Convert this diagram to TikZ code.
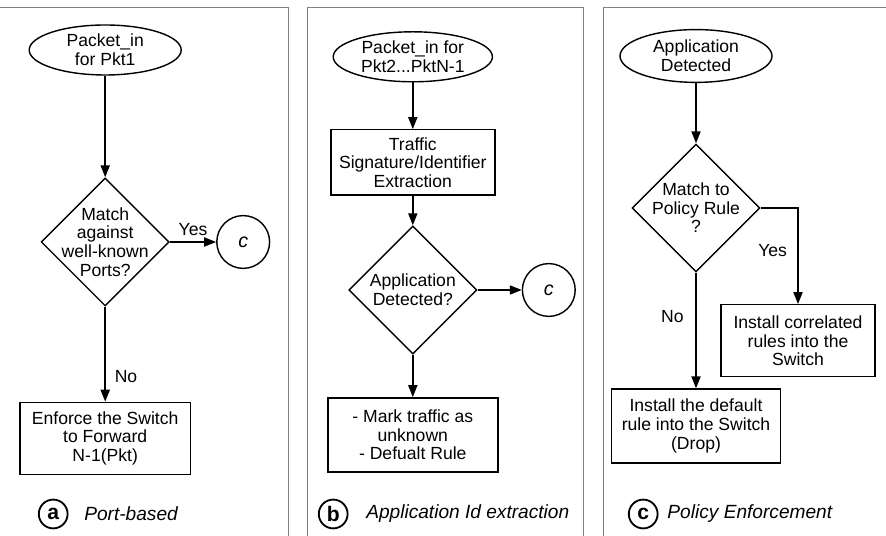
\documentclass[tikz,border=0pt]{standalone}
\usepackage{fontspec}
\setmainfont{Liberation Sans}
\usepackage{xcolor}
\usepackage{tikz}
\usetikzlibrary{shapes.geometric, arrows.meta}
\tikzstyle{startstop} = [ellipse, minimum width=3.8cm, minimum height=1.25cm, inner sep=1pt, align=center, draw=black, line width=1pt]
\tikzstyle{process} = [rectangle, minimum height=1.8cm, align=center, draw=black, line width=1pt]
\tikzstyle{decision} = [diamond, minimum width=3.2cm, minimum height=3.2cm, inner sep=0pt, draw=black, line width=1pt]
\tikzstyle{connector} = [circle, minimum size=1.32cm, inner sep=0pt, draw=black, line width=1pt, font=\fontsize{14}{14}\selectfont\itshape]
\tikzstyle{badge} = [circle, minimum size=0.72cm, inner sep=0pt, draw=black, line width=1.3pt, font=\fontsize{15}{15}\selectfont\bfseries]
\tikzstyle{caption} = [anchor=west, inner sep=0pt, font=\fontsize{13.6}{14}\selectfont\itshape]
\tikzstyle{arrow} = [line width=1pt,-{Stealth[length=8.5pt,width=6.5pt,inset=0pt]}]
\tikzstyle{frame} = [gray, line width=0.6pt]

\begin{document}
\begin{tikzpicture}[font=\fontsize{12.5}{13.2}\selectfont]
		\useasboundingbox (0,0) rectangle (22.15,13.4);
		% (a) port-based
		\coordinate (pktone) at (2.63,12.15);
		\coordinate (ports) at (2.63,7.35);
		\coordinate (conna) at (6.08,7.35);
		\coordinate (forward) at (2.63,2.44);
		\coordinate (capa) at (1.33,0.55);
		\coordinate (capatext) at (2.1,0.55);
		% (b) application id extraction
		\coordinate (pktn) at (10.32,11.98);
		\coordinate (extract) at (10.32,9.34);
		\coordinate (appdet) at (10.32,6.15);
		\coordinate (connb) at (13.72,6.15);
		\coordinate (unknown) at (10.32,2.53);
		\coordinate (capb) at (8.33,0.55);
		\coordinate (capbtext) at (9.15,0.55);
		% (c) policy enforcement
		\coordinate (appin) at (17.4,12.0);
		\coordinate (policy) at (17.4,8.2);
		\coordinate (correlated) at (19.95,4.88);
		\coordinate (default) at (17.4,2.75);
		\coordinate (capc) at (16.08,0.55);
		\coordinate (capctext) at (16.68,0.55);
		% Panel frames
		\draw[frame] (0,13.225) -- (7.2,13.225) -- (7.2,0);
		\draw[frame] (7.675,0) -- (7.675,13.225) -- (14.575,13.225) -- (14.575,0);
		\draw[frame] (15.075,0) -- (15.075,13.225) -- (22.15,13.225);
		% Start nodes
		\node[startstop, name=pktone] at (pktone) {Packet\_in\\for Pkt1};
		\node[startstop, name=pktn, minimum width=3.98cm] at (pktn) {Packet\_in for\\Pkt2...PktN-1};
		\node[startstop, name=appin, minimum height=1.32cm] at (appin) {Application\\Detected};
		% Decisions
		\node[decision, name=ports, label={[align=center]center:Match\\against\\well-known\\Ports?}] at (ports) {};
		\node[decision, name=appdet, label={[align=center]center:Application\\Detected?}] at (appdet) {};
		\node[decision, name=policy, label={[align=center]center:Match to\\Policy Rule\\?}] at (policy) {};
		% Processes
		\node[process, name=forward, minimum width=4.25cm] at (forward) {Enforce the Switch\\to Forward\\N-1(Pkt)};
		\node[process, name=extract, minimum width=4.1cm, minimum height=1.63cm] at (extract) {Traffic\\Signature/Identifier\\Extraction};
		\node[process, name=unknown, minimum width=4.25cm, minimum height=1.85cm] at (unknown) {- Mark traffic as\\unknown\\- Defualt Rule};
		\node[process, name=correlated, minimum width=3.85cm] at (correlated) {Install correlated\\rules into the\\Switch};
		\node[process, name=default, minimum width=4.22cm, minimum height=1.85cm] at (default) {Install the default\\rule into the Switch\\(Drop)};
		% Connectors
		\node[connector, name=conna] at (conna) {c};
		\node[connector, name=connb] at (connb) {c};
		% Arrows
		\draw [arrow] (pktone)--(ports);
		\draw [arrow] (ports)--(conna) node[midway, above=1pt] {Yes};
		\draw [arrow] (ports)--(forward) node[pos=0.74, right=3pt] {No};
		\draw [arrow] (pktn)--(extract);
		\draw [arrow] (extract)--(appdet);
		\draw [arrow] (appdet)--(connb);
		\draw [arrow] (appdet)--(unknown);
		\draw [arrow] (appin)--(policy);
		\draw [arrow] (policy) -| (correlated) node[pos=0.72, left=4pt] {Yes};
		\draw [arrow] (policy)--(default) node[pos=0.38, left=5pt] {No};
		% Captions
		\node[badge, name=capa] at (capa) {a};
		\node[caption, name=capatext] at (capatext) {Port-based};
		\node[badge, name=capb] at (capb) {b};
		\node[caption, name=capbtext] at (capbtext) {Application Id extraction};
		\node[badge, name=capc] at (capc) {c};
		\node[caption, name=capctext] at (capctext) {Policy Enforcement};
\end{tikzpicture}
\end{document}
